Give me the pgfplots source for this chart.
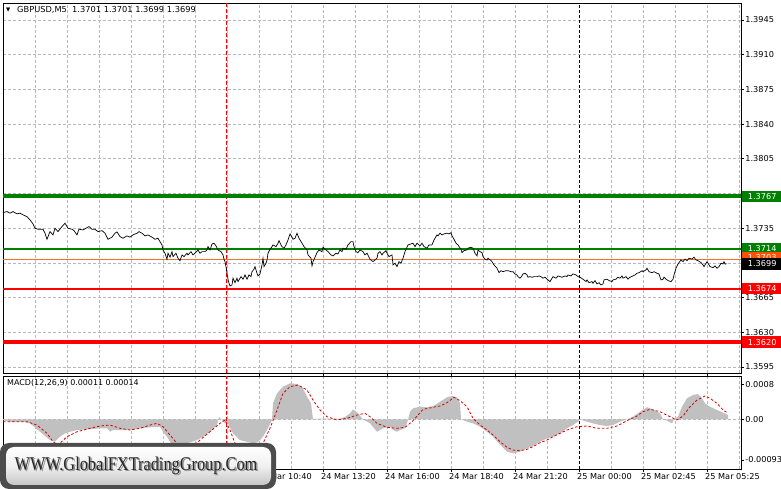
\documentclass[border=0pt]{standalone}
\usepackage{pgfplots}
\pgfplotsset{compat=1.18}
\usepackage{fontspec}
\setmainfont{DejaVu Sans}
\newfontfamily\logofont{Liberation Serif}
\definecolor{mtgreen}{RGB}{0,128,0}
\definecolor{mtred}{RGB}{255,0,0}
\definecolor{mtorange}{RGB}{235,115,45}
\definecolor{mtorangebox}{RGB}{255,80,0}
\definecolor{histgray}{RGB}{192,192,192}
\definecolor{gridgray}{RGB}{185,185,185}
\begin{document}
\begin{tikzpicture}
\useasboundingbox (0bp,0bp) rectangle (781bp,489bp);
\fill[white] (0bp,0bp) rectangle (781bp,489bp);
\pgfplotsset{
  mtaxis/.style={
    scale only axis, clip=false,
    xmin=3, xmax=741,
    axis line style={black, line width=0.9bp},
    tick label style={font=\fontsize{8.2}{9}\selectfont, text=black},
    ytick pos=right, yticklabel pos=right,
    tick align=outside, major tick length=3bp,
    every tick/.style={black, line width=0.7bp},
    scaled y ticks=false, scaled x ticks=false,
    major grid style={gridgray, dash pattern=on 2.5bp off 2.5bp, line width=0.6bp},
    minor grid style={gridgray, dash pattern=on 2.5bp off 2.5bp, line width=0.6bp},
    yticklabel style={inner sep=1.2bp},
  }
}
% ---------------- main price panel ----------------
\begin{axis}[mtaxis, name=main,
  at={(3bp,116bp)}, anchor=south west, width=738bp, height=370bp,
  ymin=1.35889, ymax=1.39621,
  xtick={35,67,...,739}, xticklabels={},
  xtick style={draw=none},
  ytick={1.3595,1.3630,1.3665,1.3700,1.3735,1.3770,1.3805,1.3840,1.3875,1.3910,1.3945},
  yticklabels={1.3595,1.3630,1.3665,,1.3735,,1.3805,1.3840,1.3875,1.3910,1.3945},
  grid=major,
]
\addplot[mtred, dash pattern=on 4bp off 2bp, line width=0.8bp] coordinates {(226,1.35889) (226,1.39621)};
\addplot[black, dash pattern=on 3bp off 2bp, line width=0.8bp] coordinates {(579,1.35889) (579,1.39621)};
\addplot[mtgreen, line width=4bp] coordinates {(3,1.3767) (741,1.3767)};
\addplot[mtgreen, line width=2.2bp] coordinates {(3,1.3714) (741,1.3714)};
\addplot[mtorange, line width=0.9bp] coordinates {(3,1.3703) (741,1.3703)};
\addplot[mtred, line width=2.2bp] coordinates {(3,1.3674) (741,1.3674)};
\addplot[mtred, line width=4bp] coordinates {(3,1.3620) (741,1.3620)};
\addplot[black, line width=0.7bp] coordinates {
(3,1.37507)(7,1.37517)(10,1.37501)(13,1.37517)(17,1.37494)(20,1.37501)(23,1.37484)(27,1.37466)(30,1.37433)(33,1.37393)(35,1.37349)(38,1.37339)(43,1.37339)(45,1.37299)(47,1.37238)(50,1.37315)(53,1.37282)(55,1.37349)(58,1.37315)(62,1.37366)(65,1.37400)(68,1.37349)(72,1.37339)(74,1.37325)(77,1.37282)(79,1.37339)(83,1.37332)(86,1.37349)(89,1.37366)(92,1.37339)(95,1.37339)(98,1.37315)(102,1.37325)(105,1.37299)(108,1.37238)(112,1.37259)(115,1.37299)(117,1.37312)(120,1.37265)(123,1.37248)(127,1.37272)(130,1.37259)(133,1.37282)(137,1.37299)(139,1.37315)(142,1.37299)(145,1.37272)(148,1.37282)(152,1.37259)(155,1.37238)(158,1.37248)(160,1.37214)(162,1.37181)(163,1.37130)(165,1.37097)(167,1.37037)(168,1.37097)(170,1.37057)(172,1.37113)(173,1.37063)(176,1.37097)(178,1.37047)(180,1.37022)(182,1.37080)(184,1.37063)(187,1.37097)(188,1.37080)(191,1.37113)(193,1.37080)(195,1.37097)(198,1.37130)(200,1.37097)(202,1.37113)(205,1.37113)(207,1.37130)(208,1.37164)(210,1.37130)(212,1.37191)(214,1.37198)(216,1.37171)(218,1.37130)(221,1.37113)(223,1.37080)(224,1.37037)(225,1.37012)(226,1.36962)(227,1.36895)(228,1.36835)(229,1.36794)(230,1.36767)(232,1.36777)(233,1.36845)(235,1.36800)(237,1.36845)(238,1.36811)(241,1.36861)(243,1.36835)(245,1.36878)(247,1.36835)(249,1.36878)(251,1.36861)(252,1.36911)(254,1.36936)(255,1.36962)(257,1.36895)(258,1.36868)(260,1.36888)(262,1.36979)(263,1.37047)(264,1.36962)(266,1.36996)(267,1.37029)(268,1.37097)(270,1.37137)(272,1.37164)(273,1.37181)(276,1.37164)(278,1.37198)(279,1.37224)(281,1.37181)(282,1.37164)(284,1.37148)(286,1.37181)(288,1.37231)(290,1.37292)(292,1.37259)(293,1.37238)(295,1.37248)(297,1.37299)(299,1.37248)(302,1.37198)(304,1.37164)(307,1.37130)(308,1.37080)(311,1.37047)(312,1.36969)(313,1.37012)(315,1.37057)(317,1.37103)(319,1.37130)(322,1.37113)(323,1.37158)(326,1.37130)(328,1.37113)(331,1.37080)(333,1.37070)(336,1.37097)(338,1.37090)(340,1.37130)(342,1.37113)(343,1.37148)(346,1.37137)(348,1.37181)(351,1.37214)(353,1.37214)(354,1.37164)(356,1.37113)(358,1.37103)(360,1.37130)(363,1.37113)(365,1.37080)(367,1.37097)(370,1.37037)(373,1.37012)(375,1.37029)(377,1.37047)(378,1.37097)(380,1.37113)(382,1.37080)(383,1.37097)(386,1.37123)(387,1.37097)(389,1.37063)(392,1.37080)(393,1.36979)(395,1.36996)(397,1.36962)(399,1.37012)(401,1.36996)(403,1.37047)(405,1.37113)(407,1.37158)(408,1.37181)(411,1.37191)(413,1.37198)(415,1.37164)(417,1.37198)(420,1.37171)(422,1.37198)(424,1.37164)(427,1.37148)(429,1.37181)(432,1.37181)(434,1.37231)(436,1.37265)(437,1.37282)(438,1.37272)(440,1.37299)(442,1.37282)(444,1.37292)(447,1.37299)(449,1.37292)(451,1.37305)(452,1.37272)(454,1.37238)(456,1.37198)(458,1.37181)(459,1.37164)(461,1.37137)(462,1.37103)(464,1.37123)(467,1.37130)(468,1.37148)(471,1.37158)(473,1.37148)(475,1.37097)(477,1.37070)(478,1.37130)(480,1.37113)(482,1.37103)(483,1.37063)(485,1.37037)(487,1.37029)(488,1.37047)(491,1.37022)(492,1.37012)(494,1.36979)(497,1.36946)(499,1.36901)(501,1.36921)(503,1.36911)(506,1.36921)(508,1.36921)(511,1.36911)(513,1.36911)(515,1.36888)(517,1.36878)(518,1.36861)(520,1.36845)(522,1.36868)(523,1.36888)(525,1.36895)(527,1.36878)(528,1.36855)(530,1.36861)(532,1.36855)(534,1.36861)(537,1.36861)(539,1.36868)(541,1.36861)(543,1.36845)(545,1.36855)(547,1.36835)(548,1.36828)(550,1.36811)(552,1.36845)(553,1.36861)(556,1.36845)(558,1.36868)(560,1.36861)(562,1.36855)(565,1.36868)(567,1.36861)(568,1.36878)(571,1.36868)(573,1.36888)(576,1.36878)(578,1.36861)(580,1.36855)(583,1.36835)(586,1.36811)(587,1.36828)(589,1.36800)(592,1.36811)(593,1.36794)(595,1.36821)(597,1.36787)(599,1.36800)(601,1.36777)(603,1.36787)(604,1.36828)(607,1.36835)(609,1.36821)(612,1.36811)(613,1.36828)(616,1.36835)(618,1.36855)(620,1.36845)(622,1.36868)(623,1.36845)(626,1.36861)(628,1.36835)(630,1.36855)(633,1.36868)(635,1.36878)(637,1.36895)(639,1.36901)(642,1.36921)(643,1.36911)(646,1.36929)(647,1.36946)(649,1.36911)(652,1.36901)(654,1.36911)(657,1.36895)(659,1.36888)(661,1.36828)(663,1.36835)(664,1.36855)(666,1.36835)(668,1.36821)(671,1.36811)(673,1.36835)(674,1.36878)(676,1.36946)(678,1.36989)(681,1.37029)(683,1.37012)(685,1.37037)(687,1.37022)(689,1.37047)(692,1.37037)(694,1.37057)(696,1.37029)(698,1.37022)(701,1.37002)(703,1.36979)(704,1.36962)(705,1.36979)(707,1.37012)(708,1.36996)(710,1.36962)(713,1.36952)(715,1.36969)(717,1.36946)(719,1.36962)(721,1.36996)(723,1.36989)(724,1.37012)(725,1.36989)(727,1.36990)
};
\tikzset{pbox/.style={anchor=west, inner sep=0pt, minimum width=40bp, minimum height=11.5bp, text=white, font=\fontsize{8.2}{9}\selectfont}}
\node[pbox, fill=mtgreen] at (axis cs:742,1.3767) {1.3767};
\node[pbox, fill=mtgreen] at (axis cs:742,1.3714) {1.3714};
\node[pbox, fill=mtorangebox] at (axis cs:742,1.37055) {1.3703};
\node[pbox, fill=black] at (axis cs:742,1.3699) {1.3699};
\node[pbox, fill=mtred] at (axis cs:742,1.3674) {1.3674};
\node[pbox, fill=mtred] at (axis cs:742,1.3620) {1.3620};
\node[anchor=west, inner sep=0pt, font=\fontsize{5.5}{6}\selectfont] at (axis cs:6,1.39551) {▼};
\node[anchor=west, inner sep=0pt, font=\fontsize{8.3}{9}\selectfont] at (axis cs:17,1.39551) {GBPUSD,M5\ \ 1.3701 1.3701 1.3699 1.3699};
\end{axis}
% ---------------- MACD panel ----------------
\begin{axis}[mtaxis, name=macd,
  at={(3bp,20bp)}, anchor=south west, width=738bp, height=93bp,
  ymin=-0.001138, ymax=0.000992,
  xtick={259,323,387,451,515,579,643,707},
  xticklabels={24 Mar 10:40,24 Mar 13:20,24 Mar 16:00,24 Mar 18:40,24 Mar 21:20,25 Mar 00:00,25 Mar 02:45,25 Mar 05:25},
  xticklabel style={anchor=north west, xshift=-3bp, inner sep=1bp},
  minor xtick={35,67,99,131,163,195,227,291,355,419,483,547,611,675,739},
  minor tick length=0pt,
  xmajorgrids, xminorgrids,
  ytick={-0.00093,0,0.0008},
  yticklabels={-0.00093,0.00,0.0008},
]
\addplot[histgray, fill=histgray, draw=none] coordinates {
(3,-0.000016)(10,-0.000062)(23,-0.000055)(30,-0.000092)(40,-0.000284)(50,-0.000474)(55,-0.000513)(60,-0.000398)(65,-0.000321)(70,-0.000284)(77,-0.000245)(87,-0.000229)(100,-0.000206)(107,-0.000206)(110,-0.000284)(113,-0.000245)(120,-0.000245)(130,-0.000245)(140,-0.000206)(150,-0.000183)(160,-0.000169)(163,-0.000284)(167,-0.000398)(170,-0.000513)(173,-0.000600)(178,-0.000707)(183,-0.000657)(187,-0.000550)(197,-0.000474)(203,-0.000398)(210,-0.000284)(217,-0.000131)(219,0.000060)(221,0.0)(225,-0.000092)(228,-0.000092)(233,-0.000321)(240,-0.000474)(253,-0.000550)(258,-0.000520)(263,-0.000398)(267,-0.000245)(272,-0.000016)(273,0.000366)(277,0.000595)(283,0.000747)(290,0.000824)(297,0.000808)(302,0.000747)(307,0.000518)(311,0.000366)(313,0.0)(320,0.000018)(340,0.000018)(345,0.000053)(350,0.000137)(353,0.000229)(358,0.000137)(363,0.0)(370,-0.000092)(377,-0.000284)(383,-0.000206)(390,-0.000169)(393,-0.000245)(397,-0.000284)(400,-0.000245)(405,-0.000206)(408,-0.000016)(410,0.000174)(413,0.000252)(420,0.000289)(427,0.000275)(433,0.000305)(440,0.000403)(447,0.000504)(452,0.000534)(457,0.000504)(460,0.000366)(461,0.0)(467,-0.000055)(473,-0.000092)(480,-0.000169)(487,-0.000284)(493,-0.000398)(500,-0.000582)(507,-0.000742)(513,-0.000779)(520,-0.000742)(527,-0.000664)(533,-0.000611)(540,-0.000513)(547,-0.000435)(553,-0.000398)(560,-0.000321)(567,-0.000206)(573,-0.000131)(578,-0.000055)(580,0.0)(587,-0.000055)(593,-0.000092)(600,-0.000131)(607,-0.000153)(613,-0.000131)(620,-0.000055)(627,0.0)(633,0.000060)(640,0.000174)(647,0.000275)(653,0.000229)(660,0.000137)(663,0.0)(667,-0.000032)(672,-0.000092)(674,0.0)(678,0.000060)(682,0.000289)(687,0.000481)(693,0.000556)(698,0.000579)(702,0.000481)(705,0.000366)(710,0.000289)(717,0.000213)(723,0.000151)(727,0.000110)(728,0.000110)
} \closedcycle;
\addplot[gridgray, dash pattern=on 2.5bp off 2.5bp, line width=0.6bp] coordinates {(3,0) (741,0)};
\addplot[mtred, dash pattern=on 4bp off 2bp, line width=0.8bp] coordinates {(226,-0.001138) (226,0.000992)};
\addplot[black, dash pattern=on 3bp off 2bp, line width=0.8bp] coordinates {(579,-0.001138) (579,0.000992)};
\addplot[mtred!85!black, dash pattern=on 2.5bp off 2bp, line width=0.8bp] coordinates {
(3,-0.000055)(27,-0.000055)(37,-0.000131)(47,-0.000321)(53,-0.000513)(58,-0.000589)(67,-0.000398)(77,-0.000284)(90,-0.000206)(100,-0.000153)(110,-0.000131)(120,-0.000206)(130,-0.000245)(140,-0.000206)(150,-0.000131)(157,-0.000092)(163,-0.000169)(170,-0.000360)(177,-0.000550)(185,-0.000703)(192,-0.000657)(200,-0.000474)(210,-0.000284)(220,-0.000092)(225,-0.000016)(230,-0.000245)(235,-0.000550)(240,-0.000772)(247,-0.000886)(255,-0.000818)(263,-0.000550)(270,-0.000206)(277,0.000213)(283,0.000595)(290,0.000747)(298,0.000785)(307,0.000671)(313,0.000442)(320,0.000213)(327,0.000060)(337,-0.000016)(347,0.000023)(357,0.000098)(365,0.000137)(370,0.000060)(377,-0.000092)(387,-0.000183)(397,-0.000206)(405,-0.000183)(412,-0.000055)(418,0.000098)(423,0.000229)(433,0.000275)(440,0.000305)(447,0.000380)(454,0.000504)(460,0.000426)(467,0.000289)(473,0.000023)(480,-0.000131)(487,-0.000245)(493,-0.000360)(500,-0.000513)(507,-0.000641)(513,-0.000703)(520,-0.000719)(527,-0.000687)(533,-0.000627)(540,-0.000536)(547,-0.000474)(553,-0.000398)(560,-0.000321)(567,-0.000245)(577,-0.000169)(587,-0.000153)(597,-0.000206)(607,-0.000206)(617,-0.000153)(627,-0.000032)(637,0.000076)(643,0.000174)(650,0.000229)(660,0.000174)(670,0.000060)(677,-0.000016)(683,0.000076)(690,0.000289)(697,0.000442)(705,0.000534)(710,0.000481)(717,0.000366)(723,0.000213)(728,0.000140)
};
\node[anchor=west, inner sep=0pt, font=\fontsize{8}{9}\selectfont] at (axis cs:7,0.000825) {MACD(12,26,9) 0.00011 0.00014};
\end{axis}
% ---------------- logo ----------------
\fill[black!70, rounded corners=9bp] (0bp,0bp) rectangle (276bp,46bp);
\shade[top color=white, bottom color=black!22, middle color=black!6, rounded corners=8bp] (6bp,4bp) rectangle (271bp,42bp);
\node[font=\logofont\fontsize{19.5}{20}\selectfont, text=black!45] at (137.5bp,22bp) {\scalebox{0.84}[1]{WWW.GlobalFXTradingGroup.Com}};
\node[font=\logofont\fontsize{19.5}{20}\selectfont, text=black!85] at (136bp,23.3bp) {\scalebox{0.84}[1]{WWW.GlobalFXTradingGroup.Com}};
\end{tikzpicture}
\end{document}
